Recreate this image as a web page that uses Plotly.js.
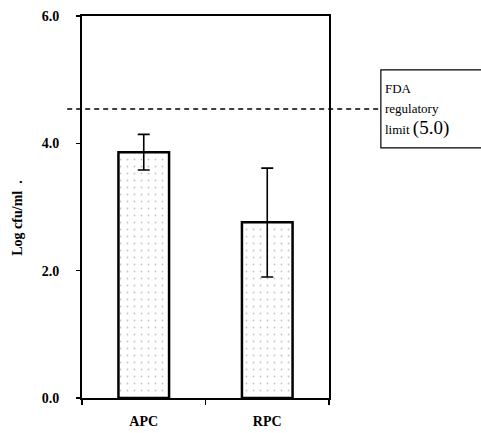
<!DOCTYPE html>
<html>
<head>
<meta charset="utf-8">
<script src="https://cdn.plot.ly/plotly-3.0.1.min.js"></script>
<style>html,body{margin:0;padding:0;background:#fff;overflow:hidden;}#chart{width:481px;height:433px;}</style>
</head>
<body>
<div id="chart"></div>
<script>
const categories = ["APC", "RPC"];
const logCfu = [3.86, 2.76];
const errPlus = [0.28, 0.85];
const errMinus = [0.28, 0.86];
const limitLine = 4.54;
const yTickVals = [0, 2, 4, 6];
const yTickText = ["0.0", "2.0", "4.0", "6.0"];
const limitLabelLines = ["FDA", "regulatory", "limit <span style='font-size:19px'>(5.0)</span>"];

const serif = "Liberation Serif, Times New Roman, serif";

const trace = {
  type: "bar",
  x: categories,
  y: logCfu,
  width: 0.41,
  marker: {
    color: "#ffffff",
    line: {color: "#000", width: 2.5},
    pattern: {shape: ".", fgcolor: "#c4c4c4", bgcolor: "#fff", size: 7, solidity: 0.05}
  },
  error_y: {
    type: "data", symmetric: false,
    array: errPlus, arrayminus: errMinus,
    color: "#000", thickness: 1.6, width: 6
  },
  hoverinfo: "skip"
};

const labelY = [0.809, 0.759, 0.706];
const labelAnnots = limitLabelLines.map((t, i) => ({
  xref: "paper", yref: "paper", x: 1.218, y: labelY[i], xanchor: "left", yanchor: "middle",
  align: "left", showarrow: false, text: t,
  font: {family: serif, size: 13, color: "#000"}
}));

const layout = {
  width: 481, height: 433,
  margin: {l: 82, r: 152, t: 16, b: 35},
  paper_bgcolor: "#fff", plot_bgcolor: "#fff",
  showlegend: false,
  font: {family: serif, color: "#000"},
  xaxis: {
    type: "category", range: [-0.5, 1.5],
    tickson: "boundaries", ticks: "outside", ticklen: 5, tickwidth: 1.5, tickcolor: "#000",
    showline: true, linecolor: "#000", linewidth: 2, mirror: true,
    showgrid: false, zeroline: false,
    tickfont: {family: serif, size: 14, weight: "bold", color: "#000"},
    ticklabelstandoff: 9
  },
  yaxis: {
    range: [0, 6], tickvals: yTickVals, ticktext: yTickText,
    ticks: "outside", ticklen: 4, tickwidth: 1.5, tickcolor: "#000",
    showline: true, linecolor: "#000", linewidth: 2, mirror: true,
    showgrid: false, zeroline: false,
    tickfont: {family: serif, size: 14, weight: "bold", color: "#000"},
    ticklabelstandoff: 14
  },
  shapes: [
    {type: "line", xref: "paper", yref: "y", x0: -0.06, x1: 1.21, y0: limitLine, y1: limitLine,
     line: {color: "#000", width: 1.5, dash: "5px,4px"}},
    {type: "path", xref: "paper", yref: "paper",
     path: "M 1.75,0.859 L 1.21,0.859 L 1.21,0.655 L 1.75,0.655",
     fillcolor: "rgba(0,0,0,0)", line: {color: "#000", width: 1.2}}
  ],
  annotations: labelAnnots.concat([
    {xref: "paper", yref: "paper", x: -0.262, y: 0.47, xanchor: "center", yanchor: "middle",
     textangle: -90, showarrow: false,
     text: "Log cfu/ml&nbsp;&nbsp;.",
     font: {family: serif, size: 14, weight: "bold", color: "#000"}}
  ])
};

Plotly.newPlot("chart", [trace], layout, {displayModeBar: false, staticPlot: true});
</script>
</body>
</html>
